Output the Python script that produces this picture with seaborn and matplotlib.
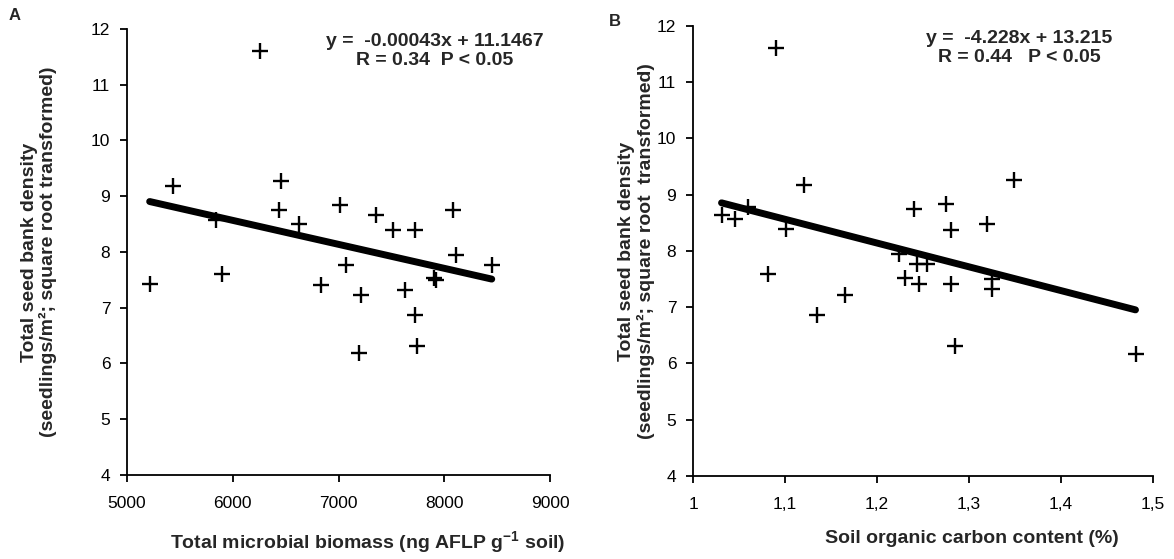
import matplotlib
matplotlib.use('Agg')
import matplotlib.pyplot as plt
import seaborn as sns
import pandas as pd

# Panel A: total microbial biomass vs seed bank density
biomass = [6260, 5432, 6455, 6433, 6622, 7010, 7353, 7514, 7725, 8078, 8109, 8449,
           7066, 5841, 5214, 5898, 6836, 7214, 7630, 7725, 7196, 7741, 7905, 7925]
density_a = [11.60, 9.19, 9.27, 8.75, 8.50, 8.85, 8.66, 8.40, 8.40, 8.76, 7.95, 7.76,
             7.77, 8.58, 7.42, 7.60, 7.41, 7.22, 7.32, 6.87, 6.18, 6.31, 7.53, 7.50]
slope_a, icpt_a = -0.00043, 11.1467

# Panel B: soil organic carbon vs seed bank density
carbon = [1.090, 1.121, 1.349, 1.240, 1.275, 1.280, 1.320, 1.031, 1.046, 1.060, 1.101, 1.224,
          1.244, 1.254, 1.230, 1.246, 1.280, 1.325, 1.325, 1.081, 1.135, 1.165, 1.285, 1.481]
density_b = [11.60, 9.18, 9.26, 8.74, 8.84, 8.38, 8.48, 8.64, 8.56, 8.78, 8.39, 7.95,
             7.77, 7.77, 7.52, 7.41, 7.41, 7.50, 7.32, 7.59, 6.86, 7.22, 6.31, 6.17]
slope_b, icpt_b = -4.228, 13.215

a_xticks = [5000, 6000, 7000, 8000, 9000]
b_xticks = [1.0, 1.1, 1.2, 1.3, 1.4, 1.5]
b_xticklabels = ['1', '1,1', '1,2', '1,3', '1,4', '1,5']
yticks = [4, 5, 6, 7, 8, 9, 10, 11, 12]

sns.set_theme(style='ticks')
plt.rcParams['font.family'] = ['Liberation Sans', 'DejaVu Sans']
plt.rcParams['mathtext.fontset'] = 'custom'
plt.rcParams['mathtext.rm'] = 'Liberation Sans:bold'
plt.rcParams['mathtext.bf'] = 'Liberation Sans:bold'
plt.rcParams['mathtext.default'] = 'bf'

fig = plt.figure(figsize=(11.74, 5.59), dpi=100)
ax1 = fig.add_axes([0.1082, 0.1503, 0.3603, 0.7979])
ax2 = fig.add_axes([0.5903, 0.1485, 0.3918, 0.8050])

ylab = 'Total seed bank density\n(seedlings/m\u00b2; square root transformed)'


def draw_panel(ax, x, y, slope, icpt):
    df = pd.DataFrame({'x': x, 'y': y})
    fit = pd.DataFrame({'x': [min(x), max(x)]})
    fit['y'] = slope * fit['x'] + icpt
    sns.lineplot(data=fit, x='x', y='y', ax=ax, color='black', linewidth=5,
                 solid_capstyle='round')
    sns.scatterplot(data=df, x='x', y='y', ax=ax, marker='+', color='black',
                    s=120, linewidth=1.7, zorder=3)
    ax.set_ylim(4, 12)
    ax.set_yticks(yticks)
    for side in ['top', 'right']:
        ax.spines[side].set_visible(False)
    for side in ['left', 'bottom']:
        ax.spines[side].set_linewidth(1.3)
        ax.spines[side].set_color('black')
    ax.tick_params(axis='both', direction='out', length=5, width=1.3, color='black',
                   labelsize=12.5, labelcolor='black')
    ax.tick_params(axis='x', pad=10)
    ax.tick_params(axis='y', pad=7)
    ax.set_facecolor('white')


# Panel A
draw_panel(ax1, biomass, density_a, slope_a, icpt_a)
ax1.set_xlim(5000, 9000)
ax1.set_xticks(a_xticks)
ax1.set_xlabel('Total microbial biomass (ng AFLP g$^{-1}$ soil)', fontsize=14, fontweight='bold')
ax1.xaxis.set_label_coords(0.57, -0.122)
ax1.set_ylabel(ylab, fontsize=14, fontweight='bold', linespacing=1.1)
ax1.yaxis.set_label_coords(-0.165, 0.5)
ax1.text(0.728, 0.951, 'y =  -0.00043x + 11.1467\nR = 0.34  P < 0.05', transform=ax1.transAxes,
         ha='center', va='center', fontsize=14, fontweight='bold', linespacing=1.12)
fig.text(15 / 1174, 1 - 15 / 559, 'A', fontsize=12, fontweight='bold', ha='center', va='center')

# Panel B
draw_panel(ax2, carbon, density_b, slope_b, icpt_b)
ax2.set_xlim(1.0, 1.5)
ax2.set_xticks(b_xticks)
ax2.set_xticklabels(b_xticklabels)
ax2.set_xlabel('Soil organic carbon content (%)', fontsize=14, fontweight='bold')
ax2.xaxis.set_label_coords(0.607, -0.12)
ax2.set_ylabel(ylab.replace('root ', 'root  '), fontsize=14, fontweight='bold', linespacing=1.1)
ax2.yaxis.set_label_coords(-0.083, 0.5)
ax2.text(0.71, 0.951, 'y =  -4.228x + 13.215\nR = 0.44   P < 0.05', transform=ax2.transAxes,
         ha='center', va='center', fontsize=14, fontweight='bold', linespacing=1.12)
fig.text(615 / 1174, 1 - 22 / 559, 'B', fontsize=12, fontweight='bold', ha='center', va='center')

fig.savefig('out.png', dpi=100, facecolor='white')
